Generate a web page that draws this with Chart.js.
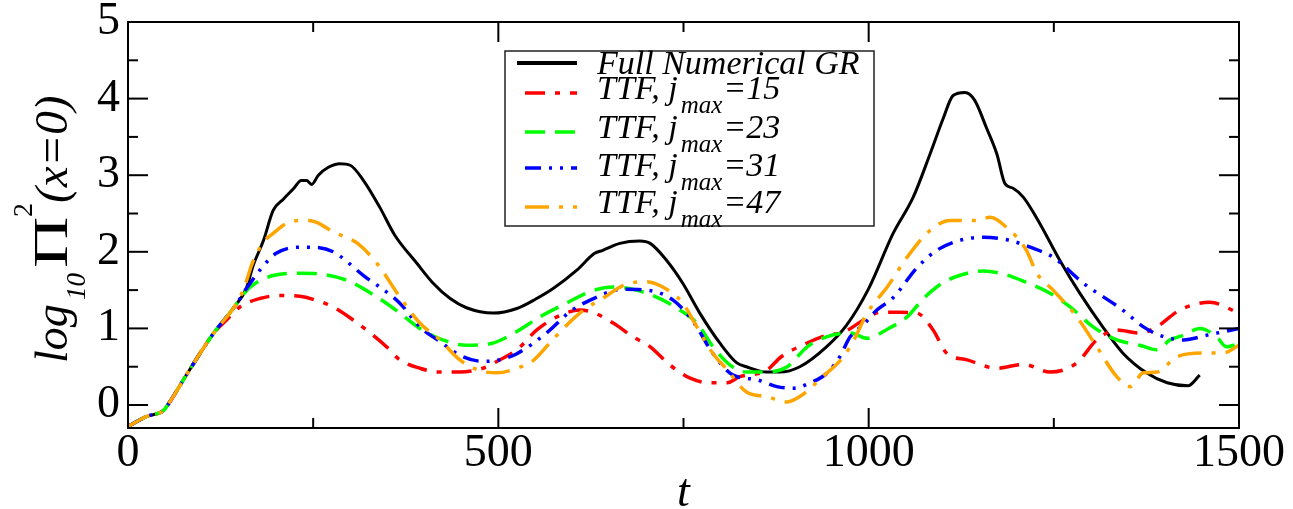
<!DOCTYPE html>
<html>
<head>
<meta charset="utf-8">
<script src="https://cdn.jsdelivr.net/npm/chart.js@4.4.1/dist/chart.umd.min.js"></script>
<style>
  html, body { margin: 0; padding: 0; background: #fff; }
</style>
</head>
<body>
<canvas id="grafico" width="1293" height="509"></canvas>
<script>
const SERIF = '"Liberation Serif"';
Chart.defaults.font.family = SERIF;

// ticks
const xTicks = [0, 500, 1000, 1500];
const xMinor = [250, 750, 1250];
const yTicks = [0, 1, 2, 3, 4, 5];
const yMinor = [0.5, 1.5, 2.5, 3.5, 4.5];

// full numerical GR
const tGR = [0, 25, 48, 55, 80, 115, 142, 160, 169, 183, 196, 210, 223, 234, 241, 248, 257, 270, 286, 300, 318, 340, 360, 390, 412, 435, 457, 493, 525, 550, 574, 606, 630, 641, 664, 691, 705, 727, 749, 772, 799, 822, 835, 862, 880, 907, 943, 970, 1000, 1033, 1060, 1083, 1101, 1114, 1130, 1143, 1159, 1173, 1184, 1195, 1209, 1231, 1258, 1285, 1316, 1343, 1375, 1403, 1431, 1447];
const vGR = [-0.28, -0.15, -0.07, 0.02, 0.41, 0.93, 1.26, 1.53, 1.82, 2.15, 2.54, 2.69, 2.82, 2.93, 2.93, 2.88, 3.00, 3.10, 3.15, 3.13, 2.93, 2.58, 2.22, 1.85, 1.59, 1.39, 1.27, 1.20, 1.26, 1.38, 1.52, 1.76, 1.98, 2.02, 2.11, 2.14, 2.11, 1.89, 1.59, 1.20, 0.81, 0.55, 0.50, 0.43, 0.43, 0.50, 0.76, 1.04, 1.52, 2.24, 2.71, 3.28, 3.75, 4.04, 4.08, 3.98, 3.62, 3.28, 2.89, 2.83, 2.71, 2.37, 1.89, 1.46, 1.02, 0.68, 0.42, 0.29, 0.25, 0.39];

// TTF, jmax = 15
const t15 = [0, 25, 48, 55, 80, 115, 133, 151, 178, 205, 232, 250, 277, 304, 327, 349, 367, 394, 421, 448, 479, 502, 525, 552, 579, 610, 630, 655, 682, 705, 732, 759, 786, 809, 826, 845, 862, 882, 917, 943, 966, 993, 1015, 1042, 1065, 1087, 1105, 1133, 1173, 1209, 1245, 1281, 1308, 1335, 1366, 1389, 1420, 1461, 1500];
const v15 = [-0.28, -0.15, -0.07, 0.02, 0.41, 0.93, 1.11, 1.28, 1.39, 1.43, 1.42, 1.38, 1.28, 1.11, 0.94, 0.76, 0.59, 0.48, 0.43, 0.43, 0.48, 0.59, 0.72, 0.98, 1.15, 1.24, 1.20, 1.07, 0.89, 0.76, 0.52, 0.35, 0.29, 0.29, 0.37, 0.40, 0.45, 0.63, 0.81, 0.91, 0.95, 1.11, 1.21, 1.21, 1.20, 0.98, 0.68, 0.59, 0.48, 0.53, 0.43, 0.55, 0.85, 0.98, 0.94, 1.02, 1.24, 1.34, 1.20];

// TTF, jmax = 23
const t23 = [0, 25, 48, 55, 80, 115, 142, 152, 165, 196, 232, 259, 295, 336, 367, 394, 425, 457, 489, 525, 556, 592, 624, 655, 682, 718, 745, 768, 790, 813, 835, 862, 890, 917, 943, 975, 998, 1027, 1052, 1074, 1101, 1133, 1155, 1182, 1213, 1245, 1272, 1303, 1335, 1366, 1389, 1407, 1425, 1447, 1470, 1483, 1500];
const v23 = [-0.28, -0.15, -0.07, 0.02, 0.41, 0.93, 1.26, 1.40, 1.54, 1.69, 1.72, 1.71, 1.63, 1.41, 1.20, 1.00, 0.85, 0.78, 0.80, 0.96, 1.15, 1.33, 1.48, 1.54, 1.51, 1.39, 1.24, 1.07, 0.76, 0.52, 0.43, 0.43, 0.50, 0.76, 0.89, 0.94, 0.87, 1.00, 1.15, 1.39, 1.60, 1.72, 1.75, 1.71, 1.60, 1.46, 1.28, 1.02, 0.85, 0.78, 0.72, 0.85, 0.91, 1.00, 0.89, 0.76, 0.80];

// TTF, jmax = 31
const t31 = [0, 25, 48, 55, 80, 115, 142, 152, 160, 178, 200, 232, 250, 277, 318, 367, 394, 421, 448, 479, 502, 525, 565, 597, 624, 668, 700, 736, 763, 790, 817, 849, 876, 898, 921, 943, 961, 975, 993, 1011, 1033, 1065, 1092, 1123, 1155, 1190, 1218, 1249, 1290, 1343, 1371, 1393, 1425, 1456, 1500];
const v31 = [-0.28, -0.15, -0.07, 0.02, 0.41, 0.93, 1.26, 1.40, 1.52, 1.76, 1.98, 2.06, 2.06, 2.00, 1.69, 1.33, 1.02, 0.83, 0.65, 0.57, 0.59, 0.67, 0.94, 1.22, 1.37, 1.51, 1.50, 1.37, 1.09, 0.67, 0.39, 0.33, 0.24, 0.22, 0.29, 0.41, 0.63, 0.89, 1.05, 1.24, 1.40, 1.79, 2.02, 2.15, 2.19, 2.15, 2.06, 1.93, 1.59, 1.24, 1.02, 0.91, 0.85, 0.91, 1.00];

// TTF, jmax = 47
const t47 = [0, 25, 48, 55, 80, 115, 142, 152, 160, 167, 174, 183, 196, 214, 232, 250, 277, 310, 336, 367, 394, 421, 448, 475, 498, 525, 547, 574, 610, 647, 668, 700, 722, 749, 768, 790, 809, 835, 862, 890, 907, 938, 966, 980, 998, 1025, 1052, 1083, 1110, 1146, 1164, 1186, 1213, 1227, 1249, 1281, 1308, 1335, 1353, 1371, 1389, 1416, 1452, 1479, 1500];
const v47 = [-0.28, -0.15, -0.07, 0.02, 0.41, 0.93, 1.26, 1.42, 1.62, 1.83, 1.98, 2.13, 2.24, 2.37, 2.41, 2.40, 2.26, 2.11, 1.85, 1.41, 1.07, 0.85, 0.59, 0.45, 0.42, 0.48, 0.58, 0.86, 1.20, 1.43, 1.56, 1.61, 1.54, 1.33, 1.02, 0.67, 0.46, 0.17, 0.11, 0.04, 0.11, 0.37, 0.63, 0.85, 1.20, 1.54, 1.93, 2.28, 2.41, 2.41, 2.45, 2.32, 2.02, 1.72, 1.50, 1.15, 0.76, 0.37, 0.24, 0.42, 0.43, 0.63, 0.68, 0.68, 0.78];

const jmaxValues = [15, 23, 31, 47];

const pts = (ts, vs) => ts.map((t, i) => ({ x: t, y: vs[i] }));

function serie(label, ts, vs, color, dash, width, order) {
    return {
        label: label,
        data: pts(ts, vs),
        borderColor: color,
        borderWidth: width,
        borderDash: dash,
        borderCapStyle: 'butt',
        showLine: true,
        pointRadius: 0,
        cubicInterpolationMode: 'monotone',
        fill: false,
        order: order
    };
}

const datasets = [
    serie('Full Numerical GR', tGR, vGR, '#000000', [], 3, 5),
    serie('TTF, j_max=' + jmaxValues[0], t15, v15, '#ff0000', [20, 10, 5, 10], 3.5, 4),
    serie('TTF, j_max=' + jmaxValues[1], t23, v23, '#00ff00', [20, 10], 3.5, 3),
    serie('TTF, j_max=' + jmaxValues[2], t31, v31, '#0000ff', [16, 8, 3, 8, 3, 8], 3.5, 2),
    serie('TTF, j_max=' + jmaxValues[3], t47, v47, '#ffa500', [24, 10, 4, 10], 3.5, 1)
];

// frame, inward ticks, axis titles and the boxed legend
const decoraciones = {
    id: 'decoraciones',
    afterDraw(chart) {
        const ctx = chart.ctx;
        const a = chart.chartArea;
        const xs = chart.scales.x, ys = chart.scales.y;
        ctx.save();
        ctx.strokeStyle = '#000';
        ctx.lineWidth = 2;
        ctx.strokeRect(a.left, a.top, a.right - a.left, a.bottom - a.top);

        const tick = (x1, y1, x2, y2) => { ctx.beginPath(); ctx.moveTo(x1, y1); ctx.lineTo(x2, y2); ctx.stroke(); };
        xTicks.forEach(v => { const p = xs.getPixelForValue(v); tick(p, a.bottom, p, a.bottom - 20); tick(p, a.top, p, a.top + 20); });
        xMinor.forEach(v => { const p = xs.getPixelForValue(v); tick(p, a.bottom, p, a.bottom - 10); tick(p, a.top, p, a.top + 10); });
        yTicks.forEach(v => { const p = ys.getPixelForValue(v); tick(a.left, p, a.left + 20, p); tick(a.right, p, a.right - 20, p); });
        yMinor.forEach(v => { const p = ys.getPixelForValue(v); tick(a.left, p, a.left + 10, p); tick(a.right, p, a.right - 10, p); });

        ctx.fillStyle = '#000';
        ctx.textAlign = 'left';
        ctx.textBaseline = 'alphabetic';

        // x title
        ctx.font = 'italic 46px ' + SERIF;
        ctx.textAlign = 'center';
        ctx.fillText('t', (a.left + a.right) / 2, 506);
        ctx.textAlign = 'left';

        // y title: log10 Pi^2 (x=0)
        ctx.save();
        ctx.translate(67, 363);
        ctx.rotate(-Math.PI / 2);
        ctx.font = 'italic 46px ' + SERIF;
        ctx.fillText('log', 0, 0);
        ctx.font = 'italic 27px ' + SERIF;
        ctx.fillText('10', 63, 18);
        ctx.save();
        ctx.translate(95, 0);
        ctx.scale(1.45, 1);
        ctx.font = 'normal 49px ' + SERIF;
        ctx.fillText('\u03A0', 0, 0);
        ctx.restore();
        ctx.font = 'normal 28px ' + SERIF;
        ctx.fillText('2', 146, -35);
        ctx.font = 'italic 47px ' + SERIF;
        ctx.fillText('(x=0)', 160, 0);
        ctx.restore();

        // legend
        const box = { l: 505, t: 51, r: 874, b: 226 };
        ctx.fillStyle = '#fff';
        ctx.fillRect(box.l, box.t, box.r - box.l, box.b - box.t);
        ctx.strokeStyle = '#222';
        ctx.lineWidth = 1.5;
        ctx.strokeRect(box.l, box.t, box.r - box.l, box.b - box.t);
        const filas = [[63, 74], [93, 99], [132, 138], [168, 176], [207, 213]];
        chart.data.datasets.forEach((ds, i) => {
            const [ly, by] = filas[i];
            ctx.strokeStyle = ds.borderColor;
            ctx.lineWidth = i === 0 ? 4 : 3.5;
            ctx.setLineDash(ds.borderDash);
            ctx.lineDashOffset = i === 0 ? 0 : -8;
            ctx.beginPath();
            ctx.moveTo(517, ly);
            ctx.lineTo(577, ly);
            ctx.stroke();
            ctx.setLineDash([]);
            ctx.fillStyle = '#000';
            ctx.font = 'italic 34px ' + SERIF;
            const partes = ds.label.split('_max');
            let x = 597;
            ctx.fillText(partes[0], x, by);
            if (partes.length > 1) {
                x += ctx.measureText(partes[0]).width + 3;
                ctx.font = 'italic 25px ' + SERIF;
                ctx.fillText('max', x, by + 14);
                x += ctx.measureText('max').width + 1;
                ctx.font = 'italic 34px ' + SERIF;
                ctx.fillText(partes[1], x, by);
            }
        });
        ctx.restore();
    }
};

const lienzo = document.getElementById('grafico').getContext('2d');
const grafico = new Chart(lienzo, {
    type: 'scatter',
    data: { datasets: datasets },
    options: {
        responsive: false,
        animation: false,
        layout: { padding: { top: 22, right: 54, left: 0, bottom: 0 } },
        plugins: { legend: { display: false }, tooltip: { enabled: false } },
        scales: {
            x: {
                type: 'linear',
                min: 0,
                max: 1500,
                afterBuildTicks: s => { s.ticks = xTicks.map(v => ({ value: v })); },
                afterFit: s => { s.height = 81; s.paddingLeft = 0; s.paddingRight = 0; },
                grid: { display: false, drawTicks: false },
                border: { display: false },
                ticks: { color: '#000', padding: 3, maxRotation: 0, callback: v => String(v), font: { family: SERIF, size: 46, lineHeight: 1 } }
            },
            y: {
                type: 'linear',
                min: -0.3,
                max: 5,
                afterBuildTicks: s => { s.ticks = yTicks.map(v => ({ value: v })); },
                afterFit: s => { s.width = 128; s.paddingTop = 0; s.paddingBottom = 0; },
                grid: { display: false, drawTicks: false },
                border: { display: false },
                ticks: { color: '#000', padding: 8, callback: v => String(v), font: { family: SERIF, size: 46, lineHeight: 1 } }
            }
        }
    },
    plugins: [decoraciones]
});
</script>
</body>
</html>
